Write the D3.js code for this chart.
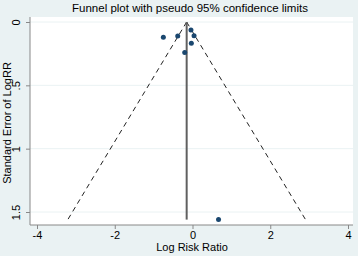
<!DOCTYPE html>
<html>
<head>
<meta charset="utf-8">
<script src="https://cdn.jsdelivr.net/npm/d3@7"></script>
<style>
  body { margin: 0; background: #eaf2f3; }
  text { font-family: "Liberation Sans", Arial, sans-serif; fill: #000; }
</style>
</head>
<body>
<div class="canvas"></div>
<script>
// study estimates (log RR, SE)
const logRR = [-0.75, -0.38, -0.04, 0.04, -0.03, -0.2, 0.67];
const seLogRR = [0.12, 0.11, 0.063, 0.108, 0.168, 0.24, 1.56];
const pooled = -0.15;
const seMax = 1.56;
const xTicks = [-4, -2, 0, 2, 4];
const yTicks = [0, 0.5, 1, 1.5];
const yTickLabels = ['0', '.5', '1', '1.5'];

const W = 358, H = 256;

const svg = d3.select('.canvas')
  .append('svg')
  .attr('width', W)
  .attr('height', H);

svg.append('rect')
  .attr('width', W).attr('height', H)
  .attr('fill', '#eaf2f3');

// plot region
const plot = {left: 30, right: 353, top: 17, bottom: 225};

svg.append('rect')
  .attr('x', plot.left).attr('y', plot.top)
  .attr('width', plot.right - plot.left)
  .attr('height', plot.bottom - plot.top)
  .attr('fill', '#fff');

// scales
const x = d3.scaleLinear().domain([-4, 4]).range([37, 348]);
const y = d3.scaleLinear().domain([0, 1.5]).range([22, 212]);

// grid lines
svg.append('g')
  .selectAll('line')
  .data(yTicks)
  .enter().append('line')
    .attr('x1', plot.left).attr('x2', plot.right)
    .attr('y1', d => y(d)).attr('y2', d => y(d))
    .attr('stroke', '#eaf2f3')
    .attr('stroke-width', 1);

// axes
const xAxis = d3.axisBottom(x)
  .tickValues(xTicks)
  .tickSize(4)
  .tickPadding(2)
  .tickFormat(d => d);

const yAxis = d3.axisLeft(y)
  .tickValues(yTicks)
  .tickSize(4)
  .tickFormat((d, i) => yTickLabels[i]);

const xAxisGroup = svg.append('g')
  .attr('transform', `translate(0, ${plot.bottom})`)
  .call(xAxis);

xAxisGroup.select('.domain')
  .attr('d', `M${plot.left},0H${plot.right}`);

const yAxisGroup = svg.append('g')
  .attr('transform', `translate(${plot.left}, 0)`)
  .call(yAxis);

yAxisGroup.select('.domain')
  .attr('d', `M0,${plot.top}V${plot.bottom}`);

svg.selectAll('.domain, .tick line')
  .attr('stroke', '#888')
  .attr('stroke-width', 1);

xAxisGroup.selectAll('text')
  .attr('font-size', 11);

// rotate y tick labels like stata
yAxisGroup.selectAll('.tick text')
  .attr('font-size', 11)
  .attr('x', null)
  .attr('dy', null)
  .attr('text-anchor', 'middle')
  .attr('transform', 'translate(-10,0) rotate(-90)');

// pseudo 95% confidence limits
const funnel = d3.line()
  .x(d => x(d[0]))
  .y(d => y(d[1]));

[-1, 1].forEach(s => {
  svg.append('path')
    .datum([[pooled, 0], [pooled + s * 1.96 * seMax, seMax]])
    .attr('d', funnel)
    .attr('fill', 'none')
    .attr('stroke', '#222')
    .attr('stroke-width', 1)
    .attr('stroke-dasharray', '5,4');
});

// pooled estimate line
svg.append('line')
  .attr('x1', x(pooled)).attr('x2', x(pooled))
  .attr('y1', y(0)).attr('y2', y(seMax))
  .attr('stroke', '#606060')
  .attr('stroke-width', 2);

// studies
svg.append('g')
  .selectAll('circle')
  .data(logRR)
  .enter().append('circle')
    .attr('cx', d => x(d))
    .attr('cy', (d, i) => y(seLogRR[i]))
    .attr('r', 2.5)
    .attr('fill', '#1a476f');

// titles
svg.append('text')
  .attr('x', 190).attr('y', 12)
  .attr('text-anchor', 'middle')
  .attr('font-size', 11.5)
  .text('Funnel plot with pseudo 95% confidence limits');

svg.append('text')
  .attr('x', 192).attr('y', 251)
  .attr('text-anchor', 'middle')
  .attr('font-size', 11)
  .text('Log Risk Ratio');

svg.append('text')
  .attr('transform', 'translate(11,123) rotate(-90)')
  .attr('text-anchor', 'middle')
  .attr('font-size', 11)
  .text('Standard Error of LogRR');
</script>
</body>
</html>
